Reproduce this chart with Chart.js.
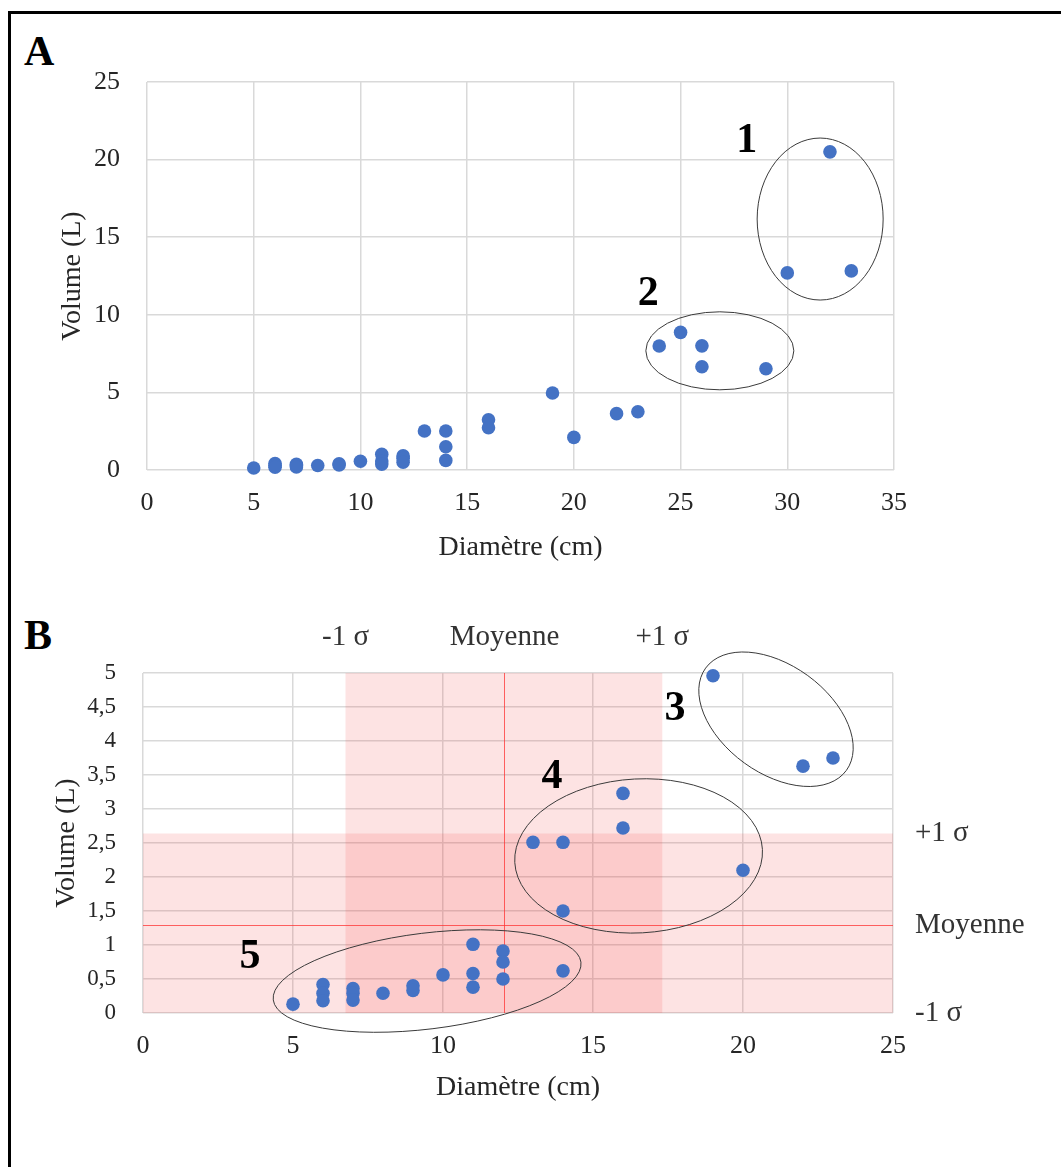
<!DOCTYPE html>
<html lang="fr">
<head>
<meta charset="utf-8">
<script src="https://cdn.jsdelivr.net/npm/chart.js@4.4.1/dist/chart.umd.min.js"></script>
<style>
  html, body { margin: 0; padding: 0; background: #fff; }
  #page { position: relative; width: 1061px; height: 1167px; overflow: hidden; background: #fff; }
  #frame { position: absolute; left: 8px; top: 11px; width: 1200px; height: 1300px;
           border-left: 3px solid #000; border-top: 3px solid #000; }
  .panel { position: absolute; left: 24px; line-height: 1; font: bold 42px "Liberation Serif", serif; color: #000; }
  canvas { position: absolute; left: 0; }
</style>
</head>
<body>
<div id="page">
  <div id="frame"></div>
  <div class="panel" style="top:27px">A</div>
  <div class="panel" style="top:611px">B</div>
  <canvas id="chartA" width="1061" height="600" style="top:0"></canvas>
  <canvas id="chartB" width="1061" height="567" style="top:600px"></canvas>
</div>
<script>
// diameter (cm) and volume (L) of each tree
const diameters = [5, 6, 6, 6, 7, 7, 7, 8, 9, 9, 10, 11, 11, 11, 12, 12, 12, 13, 14, 14, 14,
  16, 16, 19, 20, 22, 23, 24, 25, 26, 26, 29, 30, 32, 33];
const volumes = [0.13, 0.42, 0.29, 0.18, 0.36, 0.29, 0.19, 0.29, 0.40, 0.33, 0.56, 1.01, 0.58, 0.38,
  0.91, 0.75, 0.50, 2.51, 2.51, 1.50, 0.62, 3.23, 2.72, 4.96, 2.10, 3.63, 3.75, 7.99, 8.87,
  8.00, 6.65, 6.52, 12.70, 20.50, 12.83];

const xTicksA = [0, 5, 10, 15, 20, 25, 30, 35];
const yTicksA = [0, 5, 10, 15, 20, 25];
const xTicksB = [0, 5, 10, 15, 20, 25];
const yTicksB = [0, 0.5, 1, 1.5, 2, 2.5, 3, 3.5, 4, 4.5, 5];

// mean and standard deviation shown on panel B
const meanDiam = 12.03, sdDiam = 5.28;
const meanVol = 1.29, sdVol = 1.35;
const sigmaLabels = ['-1 σ', 'Moyenne', '+1 σ'];

const groupsA = ['1', '2'];
const groupsB = ['3', '4', '5'];

const SERIF = '"Liberation Serif", "DejaVu Serif", serif';
const TEXT = '#262626';

const pointsA = diameters.map((d, i) => ({ x: d, y: volumes[i] }));
const pointsB = pointsA.filter(p => p.x <= 25 && p.y <= 5);

const fmt = v => String(v).replace('.', ',');

// ellipses and group numbers, centred on data coordinates
const decor = {
  id: 'decor',
  beforeDatasetsDraw(chart, args, opts) {
    if (!opts.bands) return;
    const { ctx, chartArea: a, scales: { x, y } } = chart;
    const x0 = Math.max(a.left, x.getPixelForValue(meanDiam - sdDiam));
    const x1 = Math.min(a.right, x.getPixelForValue(meanDiam + sdDiam));
    const y0 = Math.min(a.bottom, y.getPixelForValue(meanVol - sdVol));
    const y1 = Math.max(a.top, y.getPixelForValue(meanVol + sdVol));
    ctx.save();
    ctx.fillStyle = 'rgba(244, 60, 60, 0.14)';
    ctx.fillRect(x0, a.top, x1 - x0, a.bottom - a.top);
    ctx.fillRect(a.left, y1, a.right - a.left, y0 - y1);
    ctx.strokeStyle = 'rgba(255, 50, 50, 0.75)';
    ctx.lineWidth = 1;
    const mx = Math.round(x.getPixelForValue(meanDiam)) + 0.5;
    const my = Math.round(y.getPixelForValue(meanVol)) + 0.5;
    ctx.beginPath();
    ctx.moveTo(mx, a.top); ctx.lineTo(mx, a.bottom);
    ctx.moveTo(a.left, my); ctx.lineTo(a.right, my);
    ctx.stroke();

    ctx.fillStyle = '#333';
    ctx.font = '29px ' + SERIF;
    ctx.textBaseline = 'middle';
    ctx.textAlign = 'center';
    const topY = 37;
    ctx.fillText(sigmaLabels[0], x.getPixelForValue(meanDiam - sdDiam), topY);
    ctx.fillText(sigmaLabels[1], mx, topY);
    ctx.fillText(sigmaLabels[2], x.getPixelForValue(meanDiam + sdDiam), topY);
    ctx.textAlign = 'left';
    const rx = a.right + 22;
    ctx.fillText(sigmaLabels[2], rx, y1);
    ctx.fillText(sigmaLabels[1], rx, my);
    ctx.fillText(sigmaLabels[0], rx, y0);
    ctx.restore();
  },
  afterDatasetsDraw(chart, args, opts) {
    const { ctx, scales: { x, y } } = chart;
    ctx.save();
    ctx.strokeStyle = '#3a3a3a';
    ctx.lineWidth = 1;
    (opts.ellipses || []).forEach(e => {
      ctx.beginPath();
      ctx.ellipse(x.getPixelForValue(e.x), y.getPixelForValue(e.y), e.rx, e.ry,
        e.rot * Math.PI / 180, 0, 2 * Math.PI);
      ctx.stroke();
    });
    ctx.fillStyle = '#000';
    ctx.font = 'bold 42px ' + SERIF;
    ctx.textAlign = 'center';
    ctx.textBaseline = 'middle';
    (opts.marks || []).forEach(m => {
      ctx.fillText(m.t, x.getPixelForValue(m.x), y.getPixelForValue(m.y));
    });
    ctx.restore();
  }
};

function makeScatter(canvas, cfg) {
  const grid = { color: '#d9d9d9', lineWidth: 1.5, drawTicks: false };
  return new Chart(canvas, {
    type: 'scatter',
    data: {
      datasets: [{
        data: cfg.points,
        backgroundColor: '#4472c4',
        borderWidth: 0,
        pointRadius: 6.8,
        pointHoverRadius: 6.8,
        clip: false
      }]
    },
    options: {
      responsive: false,
      animation: false,
      devicePixelRatio: 1,
      events: [],
      layout: { padding: cfg.padding },
      plugins: { legend: { display: false }, tooltip: { enabled: false }, decor: cfg.decor },
      scales: {
        x: {
          type: 'linear',
          min: cfg.xTicks[0],
          max: cfg.xTicks[cfg.xTicks.length - 1],
          afterBuildTicks: s => { s.ticks = cfg.xTicks.map(v => ({ value: v })); },
          afterFit: s => { s.height = cfg.xHeight; },
          grid,
          border: { display: false },
          ticks: { font: { family: SERIF, size: 26 }, color: TEXT, padding: 18, maxRotation: 0 },
          title: { display: true, text: 'Diamètre (cm)', color: TEXT,
                   font: { family: SERIF, size: 28 }, padding: { top: 0, bottom: 0 } }
        },
        y: {
          type: 'linear',
          min: cfg.yTicks[0],
          max: cfg.yTicks[cfg.yTicks.length - 1],
          afterBuildTicks: s => { s.ticks = cfg.yTicks.map(v => ({ value: v })); },
          afterFit: s => { s.width = cfg.yWidth; },
          grid,
          border: { display: false },
          ticks: { font: { family: SERIF, size: cfg.yFont }, color: TEXT, padding: 27, callback: fmt },
          title: { display: true, text: 'Volume (L)', color: TEXT,
                   font: { family: SERIF, size: 28 }, padding: { top: cfg.yTitlePad, bottom: 0 } }
        }
      }
    },
    plugins: [decor]
  });
}

makeScatter(document.getElementById('chartA'), {
  points: pointsA,
  xTicks: xTicksA,
  yTicks: yTicksA,
  padding: { left: 0, top: 82, right: 167, bottom: 36 },
  xHeight: 94,
  yWidth: 147,
  yFont: 26,
  yTitlePad: 56,
  decor: {
    ellipses: [
      { x: 31.54, y: 16.17, rx: 63, ry: 81, rot: 0 },
      { x: 26.84, y: 7.68, rx: 74, ry: 39, rot: 0 }
    ],
    marks: [
      { t: groupsA[0], x: 28.1, y: 21.2 },
      { t: groupsA[1], x: 23.48, y: 11.3 }
    ]
  }
});

makeScatter(document.getElementById('chartB'), {
  points: pointsB,
  xTicks: xTicksB,
  yTicks: yTicksB,
  padding: { left: 0, top: 73, right: 168, bottom: 63 },
  xHeight: 91,
  yWidth: 143,
  yFont: 23,
  yTitlePad: 50,
  decor: {
    bands: true,
    ellipses: [
      { x: 21.1, y: 4.32, rx: 87, ry: 54, rot: 36 },
      { x: 16.52, y: 2.31, rx: 124, ry: 77, rot: -3 },
      { x: 9.47, y: 0.47, rx: 155, ry: 48, rot: -7 }
    ],
    marks: [
      { t: groupsB[0], x: 17.73, y: 4.47 },
      { t: groupsB[1], x: 13.63, y: 3.47 },
      { t: groupsB[2], x: 3.57, y: 0.82 }
    ]
  }
});
</script>
</body>
</html>
